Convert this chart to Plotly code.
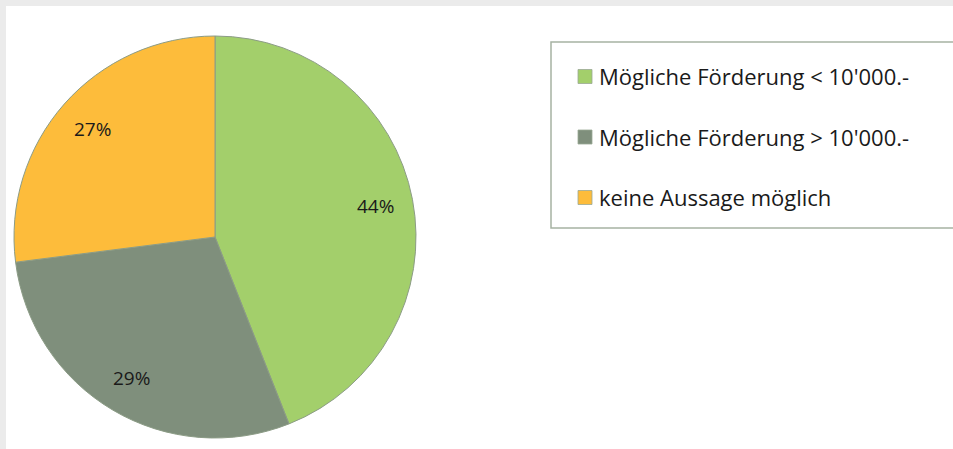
import math
import plotly.graph_objects as go

# Data
labels = ["Mögliche Förderung < 10'000.-", "Mögliche Förderung > 10'000.-", "keine Aussage möglich"]
values = [44, 29, 27]
colors = ["#A3CF6B", "#7F8F7C", "#FDBC3B"]

W, H = 953, 449
FONT = "Open Sans"

def px(x):
    return x / W

def py(y):
    return 1 - y / H

# Pie geometry (pixels)
cx, cy, r = 215, 237, 201

fig = go.Figure(go.Pie(
    labels=labels, values=values, sort=False, direction="clockwise", rotation=0,
    marker=dict(colors=colors, line=dict(color="#8C9C86", width=1)),
    textinfo="none", hoverinfo="label+percent", showlegend=False,
    domain=dict(x=[px(cx - r), px(cx + r)], y=[py(cy + r), py(cy - r)]),
))

# Percent labels at slice midpoints
total = sum(values)
cum = 0
for v in values:
    mid = (cum + v / 2) / total * 2 * math.pi
    cum += v
    lx = cx + 0.815 * r * math.sin(mid)
    ly = cy - 0.815 * r * math.cos(mid)
    fig.add_annotation(x=px(lx), y=py(ly), xref="paper", yref="paper", showarrow=False,
                       xanchor="center", yanchor="middle",
                       text=f"{round(v / total * 100)}%", font=dict(family=FONT, size=19, color="#1a1a1a"))

# White chart area on grey frame
fig.add_shape(type="rect", xref="paper", yref="paper", x0=px(6), x1=1.01, y0=-0.01, y1=py(6),
              fillcolor="white", line_width=0, layer="below")

# Legend box
fig.add_shape(type="rect", xref="paper", yref="paper", x0=px(551), x1=px(960), y0=py(228), y1=py(42),
              fillcolor="rgba(0,0,0,0)", line=dict(color="#A6B2A3", width=1.5))
for i, (lab, col) in enumerate(zip(labels, colors)):
    yc = 76.5 + i * 60.5
    fig.add_shape(type="rect", xref="paper", yref="paper", x0=px(578), x1=px(592), y0=py(yc + 7), y1=py(yc - 7),
                  fillcolor=col, line=dict(color="#9AA894", width=0.8))
    fig.add_annotation(x=px(597), y=py(yc), xref="paper", yref="paper", xanchor="left", yanchor="middle",
                       showarrow=False, text=lab, font=dict(family=FONT, size=22, color="#1a1a1a"))

fig.update_layout(width=W, height=H, margin=dict(l=0, r=0, t=0, b=0),
                  paper_bgcolor="#EBEBEB", plot_bgcolor="#EBEBEB", showlegend=False)
fig.write_html("out.html", config={"displayModeBar": False},
               post_script="document.body.style.margin='0px';")
